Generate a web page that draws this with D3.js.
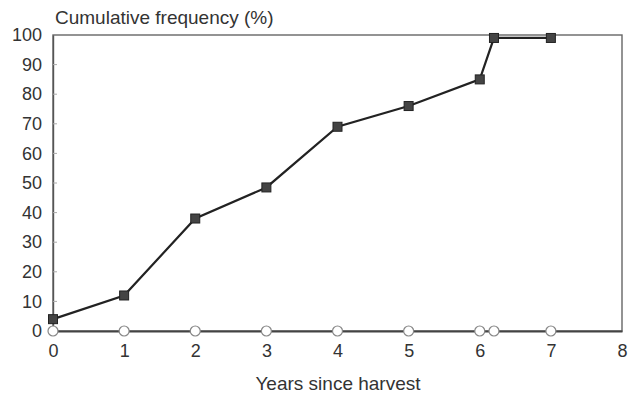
<!DOCTYPE html>
<html>
<head>
<meta charset="utf-8">
<script src="https://cdn.jsdelivr.net/npm/d3@7"></script>
<style>
  html, body { margin: 0; padding: 0; background: #fff; }
  svg text { font-family: "Liberation Sans", Arial, sans-serif; fill: #333; }
</style>
</head>
<body>
<svg id="chart" width="638" height="400"></svg>
<script>
// Cumulative frequency by years since harvest
const years      = [0, 1, 2, 3, 4, 5, 6, 6.2, 7];
const cumFreq    = [4, 12, 38, 48.5, 69, 76, 85, 99, 99];
const yearsOpen  = [0, 1, 2, 3, 4, 5, 6, 6.2, 7];
const openFreq   = [0, 0, 0, 0, 0, 0, 0, 0, 0];
const xTicks     = [0, 1, 2, 3, 4, 5, 6, 7, 8];
const yTicks     = [0, 10, 20, 30, 40, 50, 60, 70, 80, 90, 100];
const yTitle     = "Cumulative frequency (%)";
const xTitle     = "Years since harvest";

const svg = d3.select("#chart");
const x = d3.scaleLinear().domain([0, 8]).range([53, 622]);
const y = d3.scaleLinear().domain([0, 100]).range([331, 35]);

// plot frame
svg.append("rect")
  .attr("x", x(0)).attr("y", y(100))
  .attr("width", x(8) - x(0)).attr("height", y(0) - y(100))
  .attr("fill", "none").attr("stroke", "#666").attr("stroke-width", 1.4);

// y axis labels (no visible ticks)
const yAxis = d3.axisLeft(y).tickValues(yTicks).tickSize(0).tickPadding(11);
const gy = svg.append("g").attr("transform", `translate(${x(0)},0)`).call(yAxis);
gy.select(".domain").attr("stroke", "#555").attr("stroke-width", 1.4);
gy.selectAll("text").style("font-size", "18px").attr("fill", "#383838");

// small inward ticks along the y axis
svg.append("g").selectAll("line").data(yTicks.slice(1, -1)).join("line")
  .attr("x1", x(0)).attr("x2", x(0) + 4)
  .attr("y1", d => y(d)).attr("y2", d => y(d))
  .attr("stroke", "#aaa").attr("stroke-width", 1);

// x axis labels
const xAxis = d3.axisBottom(x).tickValues(xTicks).tickSize(0).tickPadding(13)
  .tickFormat(d3.format("d"));
const gx = svg.append("g").attr("transform", `translate(0,${y(0)})`).call(xAxis);
gx.select(".domain").attr("stroke", "#444").attr("stroke-width", 2);
gx.selectAll("text").style("font-size", "18px").attr("fill", "#383838");

// axis titles
svg.append("text").attr("x", 55).attr("y", 24)
  .style("font-size", "19px").text(yTitle);
svg.append("text").attr("x", 338).attr("y", 390)
  .attr("text-anchor", "middle").style("font-size", "19px").text(xTitle);

// open-circle series along zero
const openPts = yearsOpen.map((v, i) => ({ x: v, y: openFreq[i] }));
svg.append("g").selectAll("circle").data(openPts).join("circle")
  .attr("cx", d => x(d.x)).attr("cy", d => y(d.y)).attr("r", 5)
  .attr("fill", "#fff").attr("stroke", "#888").attr("stroke-width", 1.2);

// cumulative frequency line with square markers
const pts = years.map((v, i) => ({ x: v, y: cumFreq[i] }));
svg.append("path").datum(pts)
  .attr("d", d3.line().x(d => x(d.x)).y(d => y(d.y)))
  .attr("fill", "none").attr("stroke", "#222").attr("stroke-width", 2.2);
const s = 9;
svg.append("g").selectAll("rect").data(pts).join("rect")
  .attr("x", d => x(d.x) - s / 2).attr("y", d => y(d.y) - s / 2)
  .attr("width", s).attr("height", s)
  .attr("fill", "#444").attr("stroke", "#222").attr("stroke-width", 1);
</script>
</body>
</html>
